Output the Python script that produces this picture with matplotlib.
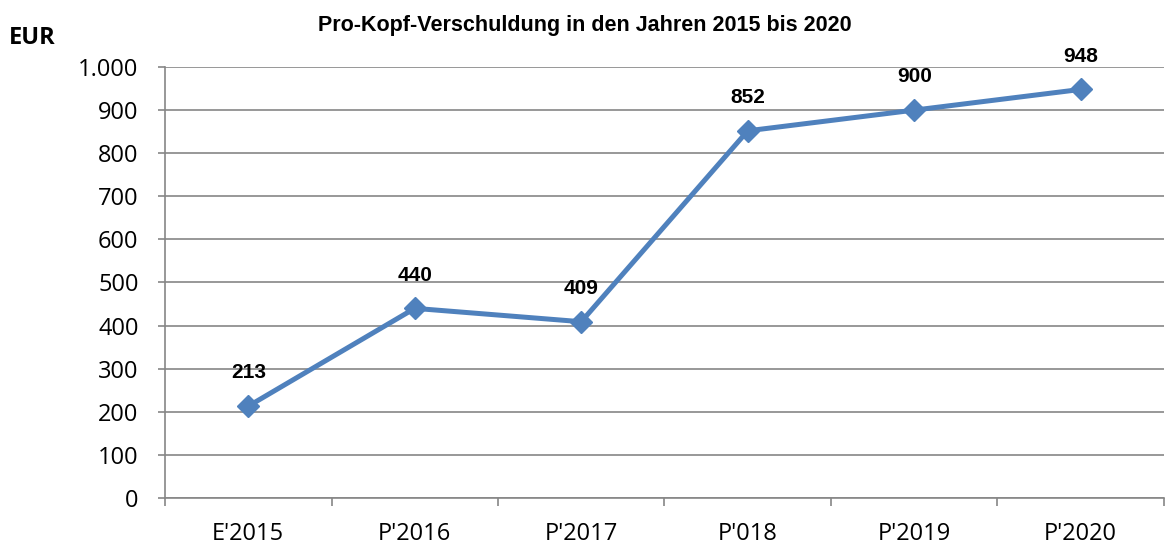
import matplotlib.pyplot as plt

categories = ["E'2015", "P'2016", "P'2017", "P'018", "P'2019", "P'2020"]
values = [213, 440, 409, 852, 900, 948]
yticks = [0, 100, 200, 300, 400, 500, 600, 700, 800, 900, 1000]
ytick_labels = ["0", "100", "200", "300", "400", "500", "600", "700", "800", "900", "1.000"]

GRID = "#868686"
LINE = "#4F81BD"

fig = plt.figure(figsize=(11.67, 5.44), dpi=100)
ax = fig.add_axes([0.1414, 0.0846, 0.856, 0.7922])

x = list(range(len(categories)))
ax.plot(x, values, color=LINE, lw=3.6, marker="D", markersize=11, zorder=3)

for xi, v in zip(x, values):
    ax.annotate(str(v), (xi, v), xytext=(0, 24), textcoords="offset points",
                ha="center", va="center", fontsize=15, fontweight="bold",
                family="Liberation Sans", color="black")

ax.set_xlim(-0.5, len(categories) - 0.5)
ax.set_ylim(0, 1000)
ax.set_yticks(yticks)
ax.set_yticklabels(ytick_labels, family="Open Sans", fontsize=17)
ax.set_xticks(x)
ax.set_xticklabels(categories, family="Open Sans", fontsize=17)
ax.set_xticks([i - 0.5 for i in range(len(categories) + 1)], minor=True)

ax.grid(axis="y", color=GRID, lw=1.2)
ax.set_axisbelow(True)
for s in ["top", "right"]:
    ax.spines[s].set_visible(False)
for s in ["left", "bottom"]:
    ax.spines[s].set_color(GRID)
    ax.spines[s].set_linewidth(1.2)

ax.tick_params(axis="y", length=5, color=GRID, width=1.2, pad=14)
ax.tick_params(axis="x", which="major", length=0, pad=17)
ax.tick_params(axis="x", which="minor", length=6, color=GRID, width=1.2)

fig.text(0.501, 0.954, "Pro-Kopf-Verschuldung in den Jahren 2015 bis 2020",
         ha="center", va="center", fontsize=15.5, fontweight="bold",
         family="Liberation Sans")
fig.text(0.008, 0.93, "EUR", ha="left", va="center", fontsize=17,
         fontweight="bold", family="Open Sans")

fig.savefig("out.png", dpi=100)
